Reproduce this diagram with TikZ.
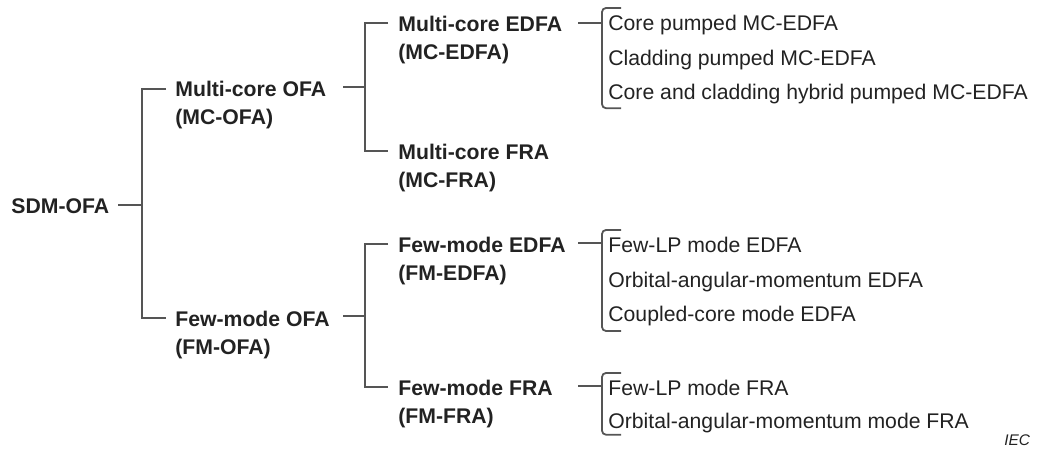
\documentclass[tikz,border=0pt]{standalone}
\usepackage{fontspec}
\setmainfont{Liberation Sans}
\usetikzlibrary{calc}
\definecolor{txt}{HTML}{222222}
\definecolor{ln}{HTML}{555555}
\begin{document}
\begin{tikzpicture}[x=0.5bp,y=-0.5bp,
  bt/.style={font=\fontsize{10.6bp}{14.25bp}\selectfont\bfseries, inner sep=0, align=left, anchor=north west, text=txt},
  it/.style={font=\fontsize{10.6bp}{14bp}\selectfont, inner sep=0, anchor=base west, text=txt},
  conn/.style={draw=ln, line width=0.9bp},
  brk/.style={conn, rounded corners=2bp}]
\useasboundingbox (0,0) rectangle (1037,450);
% main nodes
\node[bt] (sdm) at (11,198.4) {SDM-OFA};
\node[bt] (mcofa) at (175,80.4) {Multi-core OFA\\(MC-OFA)};
\node[bt] (fmofa) at (175,310.4) {Few-mode OFA\\(FM-OFA)};
\node[bt] (mcedfa) at (398,15.4) {Multi-core EDFA\\(MC-EDFA)};
\node[bt] (mcfra) at (398,143.4) {Multi-core FRA\\(MC-FRA)};
\node[bt] (fmedfa) at (398,236.4) {Few-mode EDFA\\(FM-EDFA)};
\node[bt] (fmfra) at (398,379.4) {Few-mode FRA\\(FM-FRA)};
% items
\node[it] (c1) at (608,30.6) {Core pumped MC-EDFA};
\node[it] (c2) at (608,65.1) {Cladding pumped MC-EDFA};
\node[it] (c3) at (608,99.6) {Core and cladding hybrid pumped MC-EDFA};
\node[it] (f1) at (608,252.6) {Few-LP mode EDFA};
\node[it] (f2) at (608,287.1) {Orbital-angular-momentum EDFA};
\node[it] (f3) at (608,321.6) {Coupled-core mode EDFA};
\node[it] (r1) at (608,395.6) {Few-LP mode FRA};
\node[it] (r2) at (608,428.3) {Orbital-angular-momentum mode FRA};
\node[font=\fontsize{7.7bp}{9bp}\selectfont\itshape, inner sep=0, anchor=base west, text=txt] (iec) at (1004,446) {IEC};
% level 1
\draw[conn] ($(sdm.north west)+(107,6.6)$) -- ++(24,0);
\draw[conn] ($(mcofa.north west)+(-9,8.6)$) -| ($(fmofa.north west)+(-33,7.6)$) -- ++(24,0);
% level 2 (MC)
\draw[conn] ($(mcofa.north west)+(168,6.6)$) -- ++(22,0);
\draw[conn] ($(mcedfa.north west)+(-10,7.6)$) -| ($(mcfra.north west)+(-33,7.6)$) -- ++(23,0);
% level 2 (FM)
\draw[conn] ($(fmofa.north west)+(168,6)$) -- ++(22,0);
\draw[conn] ($(fmedfa.north west)+(-10,7.6)$) -| ($(fmfra.north west)+(-33,7.6)$) -- ++(23,0);
% level 3
\draw[conn] ($(mcedfa.north west)+(180,7.6)$) -- ++(24,0);
\draw[brk] ($(c1.base west)+(13,-22.6)$) -- ++(-19,0) |- ($(c3.base west)+(13,8.6)$);
\draw[conn] ($(fmedfa.north west)+(180,7)$) -- ++(24,0);
\draw[brk] ($(f1.base west)+(13,-22.6)$) -- ++(-19,0) |- ($(f3.base west)+(13,9.4)$);
\draw[conn] ($(fmfra.north west)+(180,7)$) -- ++(24,0);
\draw[brk] ($(r1.base west)+(13,-22.6)$) -- ++(-19,0) |- ($(r2.base west)+(13,6.4)$);
\end{tikzpicture}
\end{document}
